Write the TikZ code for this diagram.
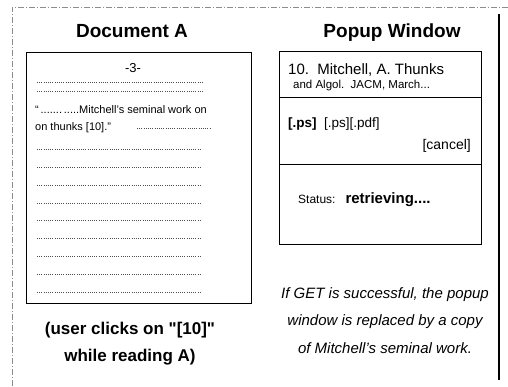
\documentclass[tikz,border=0pt]{standalone}
\usepackage{fontspec}
\setmainfont{Liberation Sans}[Ligatures=TeXOff]
\usepackage{tikz}

\begin{document}
\begin{tikzpicture}[x=1pt,y=-1pt,
  title/.style={font=\fontsize{19}{21}\selectfont\bfseries, inner sep=0pt},
  page/.style={draw, line width=0.9pt},
  dotline/.style={draw=black!70, line width=0.6pt, dash pattern=on 0.7pt off 1.5pt},
  small/.style={font=\fontsize{11}{13}\selectfont, inner sep=0pt, anchor=west},
  note/.style={font=\fontsize{15}{17}\selectfont\itshape, inner sep=0pt},
  caption/.style={font=\fontsize{17}{19}\selectfont\bfseries, inner sep=0pt}]
\useasboundingbox (0,0) rectangle (508,386);
% frame
\draw[black!45, dash pattern=on 6pt off 2pt on 1pt off 2pt] (12,386) -- (12,7) -- (508,7);
\draw[line width=1.3pt] (499,14) -- (499,380);

% document A
\node[title] (docTitle) at (132,31) {Document A};
\draw[page] (26,52) rectangle (251,303);
\node[font=\fontsize{13}{15}\selectfont, inner sep=0pt] (pageNo) at (133,68) {-3-};
\foreach \y in {82,91}
  \draw[dotline] (37,\y) -- (204,\y);
\node[small] (cite1) at (35,110) {“\,.......\,.....Mitchell’s seminal work on};
\node[small] (cite2) at (35,128) {on thunks [10].”};
\draw[dotline] (137,128) -- (210,128);
\foreach \y in {149,167,185,203,220,238,256,274,292}
  \draw[dotline] (37,\y) -- (200,\y);
\node[caption] (click1) at (130,330) {(user clicks on "[10]"};
\node[caption] (click2) at (130,357) {while reading A)};

% popup window
\node[title] (popTitle) at (392,33) {Popup Window};
\draw[page] (279,51) rectangle (481,244);
\draw[page] (279,97) -- (481,97);
\draw[page] (279,164) -- (481,164);
\node[font=\fontsize{15}{17}\selectfont, inner sep=0pt, anchor=west] (ref1) at (288,70) {10.\ \ Mitchell, A. Thunks};
\node[small, font=\fontsize{11.5}{13}\selectfont] (ref2) at (293,86) {and Algol.\ \ JACM, March...};
\node[small, font=\fontsize{13.5}{15}\selectfont] (links) at (288,124) {\textbf{[.ps]}\ \ [.ps][.pdf]};
\node[font=\fontsize{14}{16}\selectfont, inner sep=0pt, anchor=east] (cancel) at (471,146) {[cancel]};
\node[small, font=\fontsize{12}{14}\selectfont] (status) at (298,200) {Status:\ \ \ \fontsize{15}{17}\selectfont\textbf{retrieving....}};

\node[note] (note1) at (385,295) {If GET is successful, the popup};
\node[note] (note2) at (385,322) {window is replaced by a copy};
\node[note] (note3) at (385,348) {of Mitchell’s seminal work.};
\end{tikzpicture}
\end{document}
